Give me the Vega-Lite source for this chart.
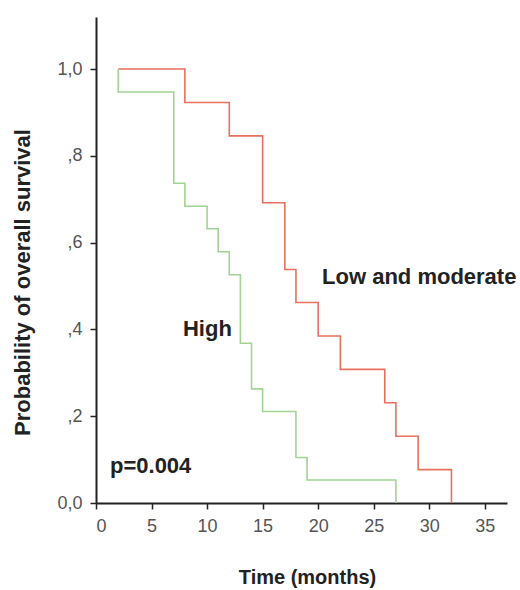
{
  "$schema": "https://vega.github.io/schema/vega-lite/v6.json",
  "autosize": "none",
  "padding": {"left": 96, "top": 17, "right": 13, "bottom": 87},
  "width": 411,
  "height": 486,
  "background": "white",
  "config": {
    "view": {"stroke": null},
    "font": "Liberation Sans"
  },
  "layer": [
    {
      "data": {
        "values": [
          {"group": "Low and moderate", "i": 0, "time": 2, "surv": 1.0},
          {"group": "Low and moderate", "i": 1, "time": 8, "surv": 0.923},
          {"group": "Low and moderate", "i": 2, "time": 12, "surv": 0.846},
          {"group": "Low and moderate", "i": 3, "time": 15, "surv": 0.692},
          {"group": "Low and moderate", "i": 4, "time": 17, "surv": 0.538},
          {"group": "Low and moderate", "i": 5, "time": 18, "surv": 0.462},
          {"group": "Low and moderate", "i": 6, "time": 20, "surv": 0.385},
          {"group": "Low and moderate", "i": 7, "time": 22, "surv": 0.308},
          {"group": "Low and moderate", "i": 8, "time": 26, "surv": 0.231},
          {"group": "Low and moderate", "i": 9, "time": 27, "surv": 0.154},
          {"group": "Low and moderate", "i": 10, "time": 29, "surv": 0.077},
          {"group": "Low and moderate", "i": 11, "time": 32, "surv": 0.0},
          {"group": "High", "i": 0, "time": 2, "surv": 1.0},
          {"group": "High", "i": 1, "time": 2, "surv": 0.947},
          {"group": "High", "i": 2, "time": 7, "surv": 0.737},
          {"group": "High", "i": 3, "time": 8, "surv": 0.684},
          {"group": "High", "i": 4, "time": 10, "surv": 0.632},
          {"group": "High", "i": 5, "time": 11, "surv": 0.579},
          {"group": "High", "i": 6, "time": 12, "surv": 0.526},
          {"group": "High", "i": 7, "time": 13, "surv": 0.368},
          {"group": "High", "i": 8, "time": 14, "surv": 0.263},
          {"group": "High", "i": 9, "time": 15, "surv": 0.211},
          {"group": "High", "i": 10, "time": 18, "surv": 0.105},
          {"group": "High", "i": 11, "time": 19, "surv": 0.053},
          {"group": "High", "i": 12, "time": 27, "surv": 0.0}
        ]
      },
      "mark": {"type": "line", "interpolate": "step-after", "strokeWidth": 1.6},
      "encoding": {
        "x": {
          "field": "time", "type": "quantitative",
          "scale": {"domain": [0, 37], "nice": false, "zero": false},
          "axis": {
            "values": [0, 5, 10, 15, 20, 25, 30, 35],
            "title": "Time (months)",
            "titleFontSize": 20, "titleFontWeight": "bold", "titleColor": "#222",
            "titleX": 211, "titleY": 74, "titleAlign": "center", "titleBaseline": "middle",
            "labelFontSize": 18, "labelColor": "#555", "labelPadding": 8,
            "tickColor": "#222", "tickSize": 6, "tickWidth": 1.5,
            "domainColor": "#222", "domainWidth": 2,
            "grid": false
          }
        },
        "y": {
          "field": "surv", "type": "quantitative",
          "scale": {"domain": [0, 1.12], "nice": false},
          "axis": {
            "values": [0, 0.2, 0.4, 0.6, 0.8, 1.0],
            "labelExpr": "datum.value == 0 ? '0,0' : datum.value == 1 ? '1,0' : ',' + format(datum.value * 10, 'd')",
            "title": "Probability of overall survival",
            "titleFontSize": 22, "titleFontWeight": "bold", "titleColor": "#222",
            "titleX": -74, "titleY": 265, "titleAlign": "center", "titleBaseline": "middle", "titleAngle": -90,
            "labelFontSize": 18, "labelColor": "#555", "labelPadding": 8,
            "tickColor": "#222", "tickSize": 6, "tickWidth": 1.5,
            "domainColor": "#222", "domainWidth": 2,
            "grid": false
          }
        },
        "color": {
          "field": "group", "type": "nominal",
          "scale": {"domain": ["Low and moderate", "High"], "range": ["#e8705f", "#a2d394"]},
          "legend": null
        },
        "order": {"field": "i", "type": "quantitative"}
      }
    },
    {
      "data": {
        "values": [
          {"label": "Low and moderate", "tx": 20.35, "ty": 0.52},
          {"label": "High", "tx": 7.83, "ty": 0.40},
          {"label": "p=0.004", "tx": 1.26, "ty": 0.085}
        ]
      },
      "mark": {"type": "text", "align": "left", "baseline": "middle", "fontSize": 22, "fontWeight": "bold", "color": "#222"},
      "encoding": {
        "x": {"field": "tx", "type": "quantitative"},
        "y": {"field": "ty", "type": "quantitative"},
        "text": {"field": "label", "type": "nominal"}
      }
    }
  ]
}
